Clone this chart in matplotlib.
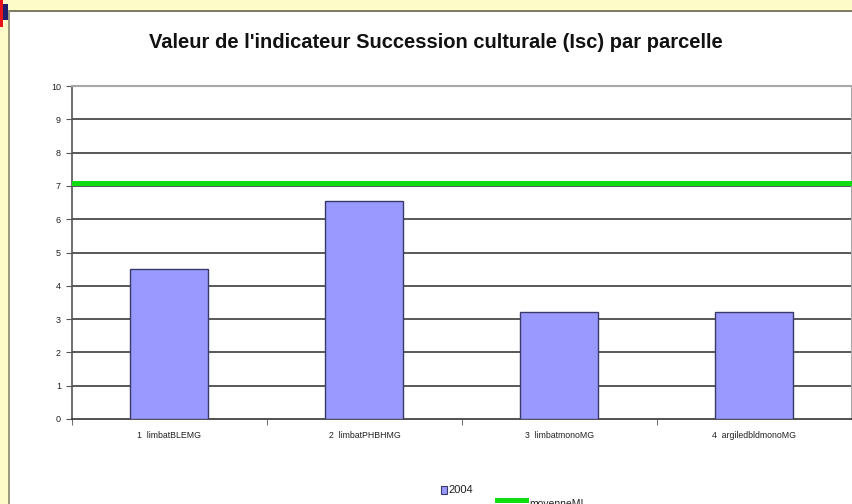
import matplotlib
matplotlib.use("Agg")
import matplotlib.pyplot as plt
from matplotlib.patches import Rectangle
from matplotlib.lines import Line2D

# Data
parcelles = ["1  limbatBLEMG", "2  limbatPHBHMG", "3  limbatmonoMG", "4  argiledbldmonoMG"]
isc_2004 = [4.5, 6.55, 3.22, 3.22]
moyenne = 7.1
y_ticks = list(range(0, 11))
serie_label = "2004"
moyenne_label = "moyenneMI"
titre = "Valeur de l'indicateur Succession culturale (Isc) par parcelle"

W, H = 853, 504
fig = plt.figure(figsize=(W / 100, H / 100), dpi=100)
fig.patch.set_facecolor("white")

# Window frame around the chart
def px_rect(x, y, w, h, color, z=0):
    fig.patches.append(Rectangle((x / W, 1 - (y + h) / H), w / W, h / H,
                                 transform=fig.transFigure, facecolor=color,
                                 edgecolor="none", zorder=z))

px_rect(0, 0, W, 10, "#fdfcc8")
px_rect(0, 0, 8, H, "#fdfcc8")
px_rect(8, 10, W - 8, 2, "#7d7d62", 1)
px_rect(8, 10, 2, H - 10, "#9a9a80", 1)
px_rect(0, 0, 3, 27, "#e8141c", 2)
px_rect(3, 4, 5, 16, "#20206e", 2)

ax = fig.add_axes([72 / W, (H - 419) / H, 780 / W, 333 / H])
ax.set_facecolor("white")

x = [i + 0.5 for i in range(len(parcelles))]
ax.bar(x, isc_2004, width=0.4, color="#9999ff", edgecolor="#3a3a6a",
       linewidth=1.0, zorder=3)
ax.axhline(moyenne, color="#10dd10", linewidth=3.6, zorder=4)

ax.set_xlim(0, len(parcelles))
ax.set_ylim(0, 10)
ax.set_yticks(y_ticks)
ax.set_yticklabels([str(v) for v in y_ticks], fontsize=6.5, color="#222222",
                   family="Liberation Sans")
for v in y_ticks[1:-1]:
    ax.axhline(v, color="#3c3c3c", linewidth=1.2, zorder=1)

ax.set_xticks(x)
ax.set_xticklabels(parcelles, fontsize=6.3, color="#222222",
                   family="Liberation Sans")
ax.set_xticks(range(len(parcelles) + 1), minor=True)
ax.tick_params(axis="x", which="major", length=0, pad=9)
ax.tick_params(axis="x", which="minor", length=4, direction="out",
               color="#555555")
ax.tick_params(axis="y", length=4, direction="out", color="#555555", pad=4)

for side in ("top", "right"):
    ax.spines[side].set_color("#a8a8a8")
    ax.spines[side].set_linewidth(1.5)
ax.spines["left"].set_color("#555555")
ax.spines["left"].set_linewidth(1.2)
ax.spines["bottom"].set_color("#333333")
ax.spines["bottom"].set_linewidth(1.2)

fig.text(436 / W, 1 - 42 / H, titre, ha="center", va="center",
         fontsize=14.5, fontweight="bold", color="#111111",
         family="Liberation Sans")

# Legend entries
px_rect(441, 486, 6, 8, "#9999ff", 3)
fig.patches.append(Rectangle((441 / W, 1 - 494 / H), 6 / W, 8 / H,
                             transform=fig.transFigure, facecolor="none",
                             edgecolor="#3a3a6a", linewidth=0.8, zorder=4))
fig.text(448 / W, 1 - 490 / H, serie_label, ha="left", va="center",
         fontsize=8, color="#222222", family="Liberation Sans")
fig.lines.append(Line2D([497 / W, 526 / W], [1 - 500 / H, 1 - 500 / H],
                        transform=fig.transFigure, color="#10dd10",
                        linewidth=3.6))
fig.text(529 / W, 1 - 504 / H, moyenne_label, ha="left", va="center",
         fontsize=7.5, color="#222222", family="Liberation Sans")

fig.savefig("out.png", dpi=100)
